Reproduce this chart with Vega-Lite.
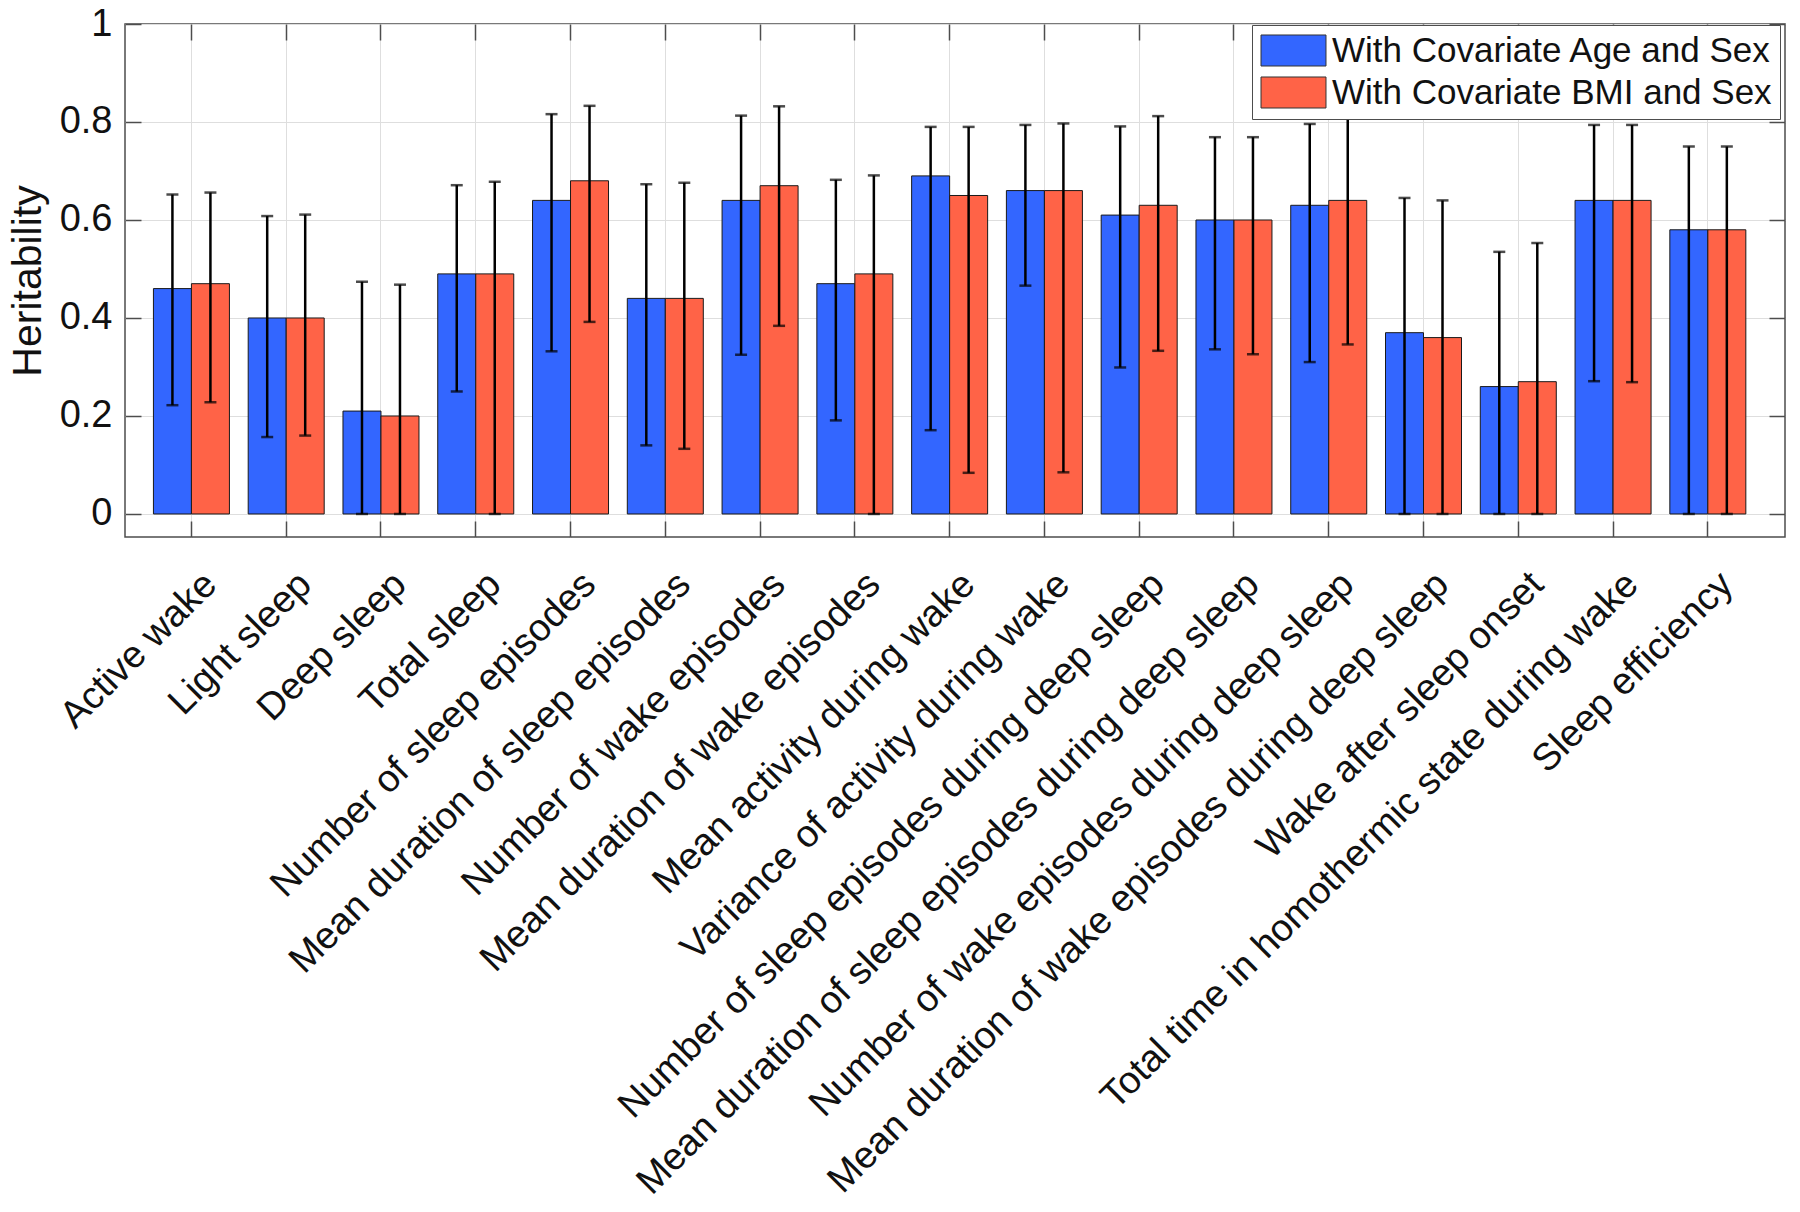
{
  "$schema": "https://vega.github.io/schema/vega-lite/v6.json",
  "width": 1660,
  "height": 513,
  "autosize": {"type": "none"},
  "padding": {"left": 125, "top": 24, "right": 15, "bottom": 675},
  "background": "white",
  "config": {
    "font": "Liberation Sans",
    "view": {"stroke": "#4d4d4d", "strokeWidth": 1.5},
    "axis": {"domain": false, "gridColor": "#dedede", "gridWidth": 1, "tickColor": "#4d4d4d", "tickWidth": 1.5, "labelColor": "#111", "titleColor": "#111", "labelFont": "Liberation Sans", "titleFont": "Liberation Sans"}
  },
  "data": {"values": [
    {"cat": "Active wake", "group": "With Covariate Age and Sex", "h": 0.46, "lo": 0.222, "hi": 0.652},
    {"cat": "Active wake", "group": "With Covariate BMI and Sex", "h": 0.47, "lo": 0.228, "hi": 0.656},
    {"cat": "Light sleep", "group": "With Covariate Age and Sex", "h": 0.40, "lo": 0.157, "hi": 0.608},
    {"cat": "Light sleep", "group": "With Covariate BMI and Sex", "h": 0.40, "lo": 0.16, "hi": 0.611},
    {"cat": "Deep sleep", "group": "With Covariate Age and Sex", "h": 0.21, "lo": 0, "hi": 0.474},
    {"cat": "Deep sleep", "group": "With Covariate BMI and Sex", "h": 0.20, "lo": 0, "hi": 0.468},
    {"cat": "Total sleep", "group": "With Covariate Age and Sex", "h": 0.49, "lo": 0.25, "hi": 0.671},
    {"cat": "Total sleep", "group": "With Covariate BMI and Sex", "h": 0.49, "lo": 0, "hi": 0.678},
    {"cat": "Number of sleep episodes", "group": "With Covariate Age and Sex", "h": 0.64, "lo": 0.332, "hi": 0.816},
    {"cat": "Number of sleep episodes", "group": "With Covariate BMI and Sex", "h": 0.68, "lo": 0.392, "hi": 0.833},
    {"cat": "Mean duration of sleep episodes", "group": "With Covariate Age and Sex", "h": 0.44, "lo": 0.14, "hi": 0.673},
    {"cat": "Mean duration of sleep episodes", "group": "With Covariate BMI and Sex", "h": 0.44, "lo": 0.133, "hi": 0.676},
    {"cat": "Number of wake episodes", "group": "With Covariate Age and Sex", "h": 0.64, "lo": 0.325, "hi": 0.813},
    {"cat": "Number of wake episodes", "group": "With Covariate BMI and Sex", "h": 0.67, "lo": 0.384, "hi": 0.832},
    {"cat": "Mean duration of wake episodes", "group": "With Covariate Age and Sex", "h": 0.47, "lo": 0.191, "hi": 0.682},
    {"cat": "Mean duration of wake episodes", "group": "With Covariate BMI and Sex", "h": 0.49, "lo": 0, "hi": 0.691},
    {"cat": "Mean activity during wake", "group": "With Covariate Age and Sex", "h": 0.69, "lo": 0.171, "hi": 0.79},
    {"cat": "Mean activity during wake", "group": "With Covariate BMI and Sex", "h": 0.65, "lo": 0.084, "hi": 0.79},
    {"cat": "Variance of activity during wake", "group": "With Covariate Age and Sex", "h": 0.66, "lo": 0.466, "hi": 0.794},
    {"cat": "Variance of activity during wake", "group": "With Covariate BMI and Sex", "h": 0.66, "lo": 0.085, "hi": 0.797},
    {"cat": "Number of sleep episodes during deep sleep", "group": "With Covariate Age and Sex", "h": 0.61, "lo": 0.299, "hi": 0.791},
    {"cat": "Number of sleep episodes during deep sleep", "group": "With Covariate BMI and Sex", "h": 0.63, "lo": 0.333, "hi": 0.812},
    {"cat": "Mean duration of sleep episodes during deep sleep", "group": "With Covariate Age and Sex", "h": 0.60, "lo": 0.336, "hi": 0.769},
    {"cat": "Mean duration of sleep episodes during deep sleep", "group": "With Covariate BMI and Sex", "h": 0.60, "lo": 0.326, "hi": 0.769},
    {"cat": "Number of wake episodes during deep sleep", "group": "With Covariate Age and Sex", "h": 0.63, "lo": 0.31, "hi": 0.796},
    {"cat": "Number of wake episodes during deep sleep", "group": "With Covariate BMI and Sex", "h": 0.64, "lo": 0.346, "hi": 0.807},
    {"cat": "Mean duration of wake episodes during deep sleep", "group": "With Covariate Age and Sex", "h": 0.37, "lo": 0, "hi": 0.645},
    {"cat": "Mean duration of wake episodes during deep sleep", "group": "With Covariate BMI and Sex", "h": 0.36, "lo": 0, "hi": 0.64},
    {"cat": "Wake after sleep onset", "group": "With Covariate Age and Sex", "h": 0.26, "lo": 0, "hi": 0.535},
    {"cat": "Wake after sleep onset", "group": "With Covariate BMI and Sex", "h": 0.27, "lo": 0, "hi": 0.553},
    {"cat": "Total time in homothermic state during wake", "group": "With Covariate Age and Sex", "h": 0.64, "lo": 0.271, "hi": 0.794},
    {"cat": "Total time in homothermic state during wake", "group": "With Covariate BMI and Sex", "h": 0.64, "lo": 0.269, "hi": 0.794},
    {"cat": "Sleep efficiency", "group": "With Covariate Age and Sex", "h": 0.58, "lo": 0, "hi": 0.75},
    {"cat": "Sleep efficiency", "group": "With Covariate BMI and Sex", "h": 0.58, "lo": 0, "hi": 0.75}
  ]},
  "layer": [
    {
      "mark": {"type": "bar", "stroke": "#1a1a1a", "strokeWidth": 1},
      "encoding": {
        "x": {"field": "cat", "type": "nominal", "sort": null,
              "scale": {"paddingInner": 0, "paddingOuter": 0.2575, "align": 0.39},
              "axis": {"orient": "bottom", "title": null, "labelAngle": -45, "labelAlign": "right", "labelBaseline": "top",
                       "labelFontSize": 38, "labelOffset": 6, "labelPadding": 44, "tickSize": -16, "grid": true, "labelLimit": 2000}},
        "xOffset": {"field": "group", "type": "nominal", "scale": {"paddingOuter": 0.247, "paddingInner": 0}},
        "y": {"field": "h", "type": "quantitative",
              "scale": {"domain": [-0.047, 1], "nice": false, "zero": false},
              "axis": {"orient": "left", "title": "Heritability", "titleFontSize": 41, "titleFontWeight": "normal", "titlePadding": 10,
                       "values": [0, 0.2, 0.4, 0.6, 0.8, 1], "format": "~g", "labelFontSize": 38, "labelPadding": 29, "tickSize": -16, "grid": true}},
        "color": {"field": "group", "type": "nominal",
                  "scale": {"domain": ["With Covariate Age and Sex", "With Covariate BMI and Sex"], "range": ["#3366FF", "#FF6347"]},
                  "legend": {"title": null, "orient": "none", "legendX": 1127, "legendY": 1, "labelFontSize": 35, "labelColor": "#111",
                             "symbolType": "M-2,-0.954H2V0.954H-2Z", "symbolSize": 1056, "symbolOffset": 16, "symbolStrokeColor": "#333", "symbolStrokeWidth": 1,
                             "symbolOpacity": 1, "labelOffset": 21, "padding": 8, "rowPadding": 5, "strokeColor": "#4d4d4d", "fillColor": "white", "labelLimit": 1000}}
      }
    },
    {
      "mark": {"type": "rule", "color": "black", "strokeWidth": 2.5},
      "encoding": {
        "x": {"field": "cat", "type": "nominal", "sort": null,
              "axis": {"orient": "top", "title": null, "labels": false, "grid": false, "tickSize": -16}},
        "xOffset": {"field": "group", "type": "nominal"},
        "y": {"field": "lo", "type": "quantitative",
              "axis": {"orient": "right", "title": null, "labels": false, "grid": false, "tickSize": -16, "values": [0, 0.2, 0.4, 0.6, 0.8, 1]}},
        "y2": {"field": "hi"}
      }
    },
    {
      "mark": {"type": "tick", "color": "black", "size": 12, "thickness": 2.5, "orient": "horizontal"},
      "encoding": {
        "x": {"field": "cat", "type": "nominal", "sort": null, "axis": null},
        "xOffset": {"field": "group", "type": "nominal"},
        "y": {"field": "hi", "type": "quantitative", "axis": null}
      }
    },
    {
      "mark": {"type": "tick", "color": "black", "size": 12, "thickness": 2.5, "orient": "horizontal"},
      "encoding": {
        "x": {"field": "cat", "type": "nominal", "sort": null, "axis": null},
        "xOffset": {"field": "group", "type": "nominal"},
        "y": {"field": "lo", "type": "quantitative", "axis": null}
      }
    }
  ]
}
